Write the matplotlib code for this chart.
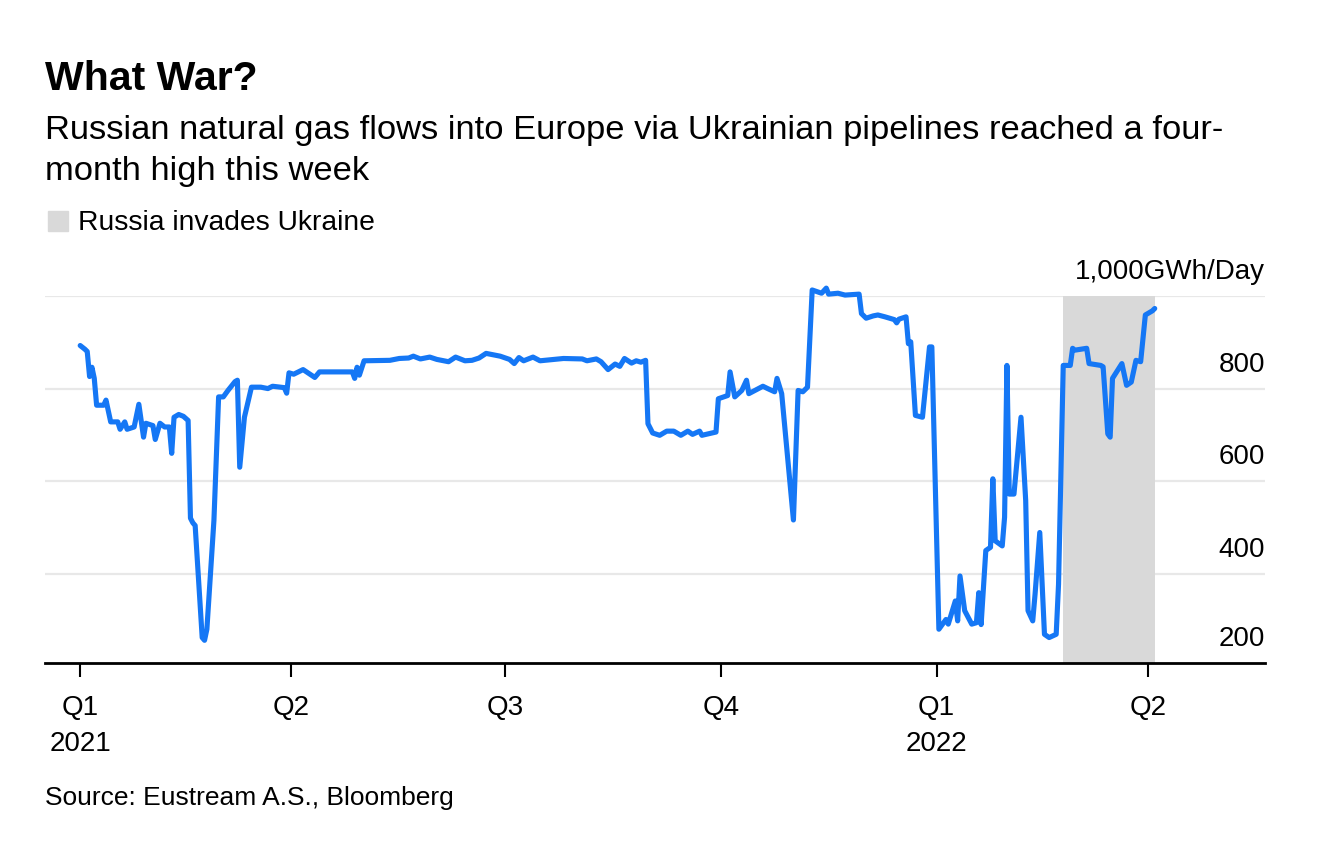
import matplotlib
matplotlib.use("Agg")
import matplotlib.pyplot as plt
import matplotlib.patches as mpatches
import pandas as pd

plt.rcParams["font.family"] = ["Liberation Sans", "DejaVu Sans"]

# Daily flows via Ukrainian pipelines, GWh/day
dates = [
    "2021-01-01", "2021-01-03", "2021-01-04", "2021-01-05", "2021-01-06", "2021-01-07",
    "2021-01-08", "2021-01-11", "2021-01-12", "2021-01-14", "2021-01-17", "2021-01-18",
    "2021-01-20", "2021-01-21", "2021-01-24", "2021-01-26", "2021-01-28", "2021-01-29",
    "2021-02-01", "2021-02-02", "2021-02-04", "2021-02-06", "2021-02-08", "2021-02-09",
    "2021-02-10", "2021-02-12", "2021-02-14", "2021-02-16", "2021-02-17", "2021-02-18",
    "2021-02-19", "2021-02-22", "2021-02-23", "2021-02-24", "2021-02-27", "2021-03-01",
    "2021-03-03", "2021-03-05", "2021-03-08", "2021-03-09", "2021-03-10", "2021-03-12",
    "2021-03-15", "2021-03-19", "2021-03-22", "2021-03-24", "2021-03-29", "2021-03-30",
    "2021-03-31", "2021-04-02", "2021-04-04", "2021-04-06", "2021-04-11", "2021-04-13",
    "2021-04-27", "2021-04-28", "2021-04-29", "2021-04-30", "2021-05-02", "2021-05-13",
    "2021-05-17", "2021-05-21", "2021-05-23", "2021-05-26", "2021-05-30", "2021-06-02",
    "2021-06-07", "2021-06-10", "2021-06-14", "2021-06-17", "2021-06-20", "2021-06-23",
    "2021-06-26", "2021-06-29", "2021-07-03", "2021-07-05", "2021-07-07", "2021-07-09",
    "2021-07-13", "2021-07-16", "2021-07-26", "2021-08-03", "2021-08-05", "2021-08-09",
    "2021-08-11", "2021-08-14", "2021-08-17", "2021-08-19", "2021-08-21", "2021-08-24",
    "2021-08-26", "2021-08-28", "2021-08-30", "2021-08-31", "2021-09-02", "2021-09-05",
    "2021-09-08", "2021-09-11", "2021-09-14", "2021-09-17", "2021-09-19", "2021-09-22",
    "2021-09-23", "2021-09-29", "2021-09-30", "2021-10-04", "2021-10-05", "2021-10-07",
    "2021-10-10", "2021-10-12", "2021-10-13", "2021-10-19", "2021-10-21", "2021-10-24",
    "2021-10-25", "2021-10-27", "2021-11-01", "2021-11-03", "2021-11-05", "2021-11-07",
    "2021-11-09", "2021-11-13", "2021-11-15", "2021-11-16", "2021-11-20", "2021-11-23",
    "2021-11-29", "2021-11-30", "2021-12-02", "2021-12-05", "2021-12-07", "2021-12-10",
    "2021-12-14", "2021-12-15", "2021-12-16", "2021-12-19", "2021-12-20", "2021-12-21",
    "2021-12-23", "2021-12-26", "2021-12-29", "2021-12-30", "2022-01-02", "2022-01-05",
    "2022-01-06", "2022-01-09", "2022-01-10", "2022-01-11", "2022-01-13", "2022-01-16",
    "2022-01-18", "2022-01-19", "2022-01-20", "2022-01-22", "2022-01-24", "2022-01-25",
    "2022-01-26", "2022-01-29", "2022-01-30", "2022-01-31", "2022-02-01", "2022-02-03",
    "2022-02-06", "2022-02-08", "2022-02-09", "2022-02-11", "2022-02-12", "2022-02-14",
    "2022-02-16", "2022-02-18", "2022-02-21", "2022-02-22", "2022-02-24", "2022-02-27",
    "2022-02-28", "2022-03-01", "2022-03-06", "2022-03-07", "2022-03-12", "2022-03-13",
    "2022-03-15", "2022-03-16", "2022-03-17", "2022-03-21", "2022-03-23", "2022-03-25",
    "2022-03-27", "2022-03-29", "2022-03-31", "2022-04-03", "2022-04-04",
]
flows = [
    893, 885, 880, 826, 846, 822,
    764, 764, 775, 728, 728, 712,
    728, 712, 717, 766, 695, 725,
    720, 690, 725, 717, 717, 660,
    738, 744, 740, 731, 520, 510,
    504, 262, 256, 280, 515, 782,
    782, 796, 815, 818, 630, 738,
    803, 803, 800, 805, 802, 790,
    834, 831, 836, 841, 824, 836,
    836, 822, 846, 829, 860, 861,
    865, 866, 870, 864, 868, 863,
    858, 868, 860, 861, 866, 876,
    873, 870, 863, 854, 867, 860,
    868, 860, 865, 864, 860, 864,
    858, 841, 853, 848, 865, 855,
    860, 857, 861, 724, 704, 699,
    708, 708, 699, 708, 701, 708,
    699, 706, 778, 785, 836, 782,
    796, 818, 789, 805, 800, 793,
    822, 789, 516, 796, 793, 803,
    1013, 1006, 1017, 1004, 1006, 1002,
    1004, 962, 952, 957, 959, 955,
    949, 942, 950, 955, 897, 901,
    742, 738, 890, 890, 280, 301,
    291, 341, 298, 395, 320, 291,
    294, 359, 290, 450, 457, 605,
    471, 460, 522, 850, 572, 572,
    738, 558, 320, 298, 356, 489,
    269, 262, 269, 377, 850, 850,
    887, 883, 887, 854, 850, 847,
    702, 695, 822, 854, 807, 814,
    861, 858, 959, 968, 973,
]

invasion_start = "2022-02-24"
invasion_end = "2022-04-04"

quarter_ticks = ["2021-01-01", "2021-04-01", "2021-07-01", "2021-10-01", "2022-01-01", "2022-04-01"]
quarter_labels = ["Q1\n2021", "Q2", "Q3", "Q4", "Q1\n2022", "Q2"]
y_ticks = [200, 400, 600, 800, 1000]
y_labels = ["200", "400", "600", "800", "1,000GWh/Day"]

LINE = "#1577F5"
SHADE = "#D9D9D9"
GRID = "#E8E8E8"

W, H = 1322, 858
fig = plt.figure(figsize=(W / 100, H / 100), dpi=100)
ax = fig.add_axes([45 / W, 1 - 663 / H, (1265 - 45) / W, (663 - 296) / H])

x = pd.to_datetime(dates)
ax.axvspan(pd.Timestamp(invasion_start), pd.Timestamp(invasion_end),
           color=SHADE, lw=0, zorder=1)
ax.plot(x, flows, color=LINE, lw=3.7, solid_joinstyle="round",
        solid_capstyle="round", zorder=3, clip_on=False)

ax.set_xlim(pd.Timestamp("2020-12-17"), pd.Timestamp("2022-05-21"))
ax.set_ylim(207, 1000)

# gridlines
for v in y_ticks[1:]:
    ax.axhline(v, color=GRID, lw=1.6, zorder=0)
ax.set_yticks([])

# y labels sit above their gridlines on the right
for v, lab in zip(y_ticks, y_labels):
    yv = v if v > 200 else 207
    ax.annotate(lab, xy=(1.0, yv), xycoords=("axes fraction", "data"),
                xytext=(0, 17), textcoords="offset pixels",
                ha="right", va="baseline", fontsize=20, color="#000000")

for s in ["top", "right", "left"]:
    ax.spines[s].set_visible(False)
ax.spines["bottom"].set_linewidth(2)
ax.spines["bottom"].set_color("#000000")

ax.set_xticks(pd.to_datetime(quarter_ticks))
ax.set_xticklabels(quarter_labels, fontsize=20, linespacing=1.5)
ax.tick_params(axis="x", length=10, width=1.5, pad=13, color="#000000")

# headings
fig.text(45 / W, 1 - 90 / H, "What War?", fontsize=29.5, fontweight="bold",
         ha="left", va="baseline")
fig.text(45 / W, 1 - 139 / H,
         "Russian natural gas flows into Europe via Ukrainian pipelines reached a four-",
         fontsize=24.8, ha="left", va="baseline")
fig.text(45 / W, 1 - 180 / H, "month high this week",
         fontsize=24.8, ha="left", va="baseline")

# legend
fig.patches.append(mpatches.Rectangle((48 / W, 1 - 231 / H), 20 / W, 20 / H,
                                      transform=fig.transFigure, color=SHADE))
fig.text(78 / W, 1 - 230 / H, "Russia invades Ukraine", fontsize=20.3,
         ha="left", va="baseline")

fig.text(45 / W, 1 - 805 / H, "Source: Eustream A.S., Bloomberg", fontsize=19,
         ha="left", va="baseline")

fig.savefig("out.png", dpi=100, facecolor="white")
